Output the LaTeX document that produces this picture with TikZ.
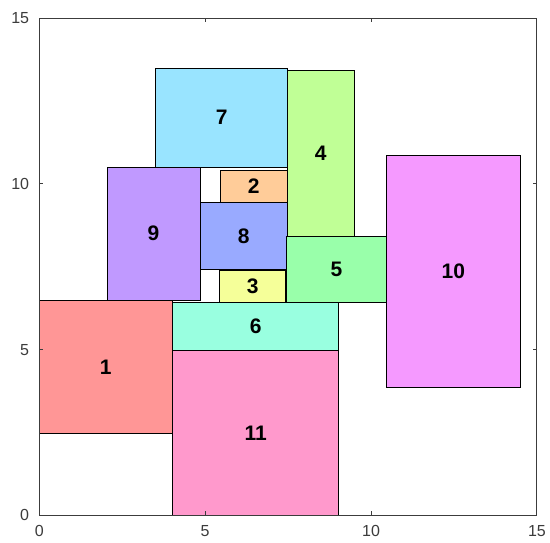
\documentclass[tikz,border=0pt]{standalone}
\usepackage{fontspec}
\setmainfont{Liberation Sans}
\definecolor{c1}{RGB}{255,150,150}
\definecolor{c2}{RGB}{255,204,153}
\definecolor{c3}{RGB}{245,255,153}
\definecolor{c4}{RGB}{192,255,150}
\definecolor{c5}{RGB}{153,255,170}
\definecolor{c6}{RGB}{153,255,224}
\definecolor{c7}{RGB}{153,228,255}
\definecolor{c8}{RGB}{153,170,255}
\definecolor{c9}{RGB}{192,153,255}
\definecolor{c10}{RGB}{245,153,255}
\definecolor{c11}{RGB}{255,153,204}
\definecolor{axc}{RGB}{60,60,60}
\tikzset{
  blk/.style={draw=black, line width=0.9pt},
  lbl/.style={font=\fontsize{21}{21}\selectfont\bfseries},
  tick/.style={font=\fontsize{16}{16}\selectfont, text=axc},
  axline/.style={draw=axc, line width=1pt}
}
\begin{document}
\begin{tikzpicture}[x=33.18pt,y=33.13pt]
\useasboundingbox (-1.184,-0.806) rectangle (15.392,15.554);
\fill[white] (-1.184,-0.806) rectangle (15.392,15.554);
% rectangles
\filldraw[blk,fill=c1] (0,2.47) rectangle (4.01,6.49);
\node[lbl] (n1) at (2.0,4.48) {1};
\filldraw[blk,fill=c7] (3.5,10.5) rectangle (7.49,13.5);
\node[lbl] (n7) at (5.5,12.0) {7};
\filldraw[blk,fill=c4] (7.47,8.42) rectangle (9.5,13.43);
\node[lbl] (n4) at (8.48,10.92) {4};
\filldraw[blk,fill=c9] (2.04,6.5) rectangle (4.85,10.5);
\node[lbl] (n9) at (3.44,8.5) {9};
\filldraw[blk,fill=c2] (5.46,9.43) rectangle (7.47,10.41);
\node[lbl] (n2) at (6.46,9.92) {2};
\filldraw[blk,fill=c8] (4.86,7.43) rectangle (7.47,9.43);
\node[lbl] (n8) at (6.16,8.43) {8};
\filldraw[blk,fill=c3] (5.43,6.43) rectangle (7.43,7.40);
\node[lbl] (n3) at (6.43,6.92) {3};
\filldraw[blk,fill=c5] (7.46,6.43) rectangle (10.47,8.41);
\node[lbl] (n5) at (8.96,7.42) {5};
\filldraw[blk,fill=c10] (10.47,3.85) rectangle (14.49,10.87);
\node[lbl] (n10) at (12.48,7.36) {10};
\filldraw[blk,fill=c6] (4.01,4.99) rectangle (9.03,6.42);
\node[lbl] (n6) at (6.52,5.71) {6};
\filldraw[blk,fill=c11] (4.01,0) rectangle (9.03,4.99);
\node[lbl] (n11) at (6.52,2.48) {11};
% axes box
\draw[axline] (0,0) rectangle (15,15);
\foreach \v in {5,10} {
  \draw[axline] (\v,0) -- ++(0,0.12);
  \draw[axline] (\v,15) -- ++(0,-0.12);
  \draw[axline] (0,\v) -- ++(0.12,0);
  \draw[axline] (15,\v) -- ++(-0.12,0);
}
\foreach \v in {0,5,10,15} {
  \node[tick] (xt\v) at (\v,-0.48) {\v};
  \node[tick, anchor=east] (yt\v) at (-0.2,\v) {\v};
}
\end{tikzpicture}
\end{document}
